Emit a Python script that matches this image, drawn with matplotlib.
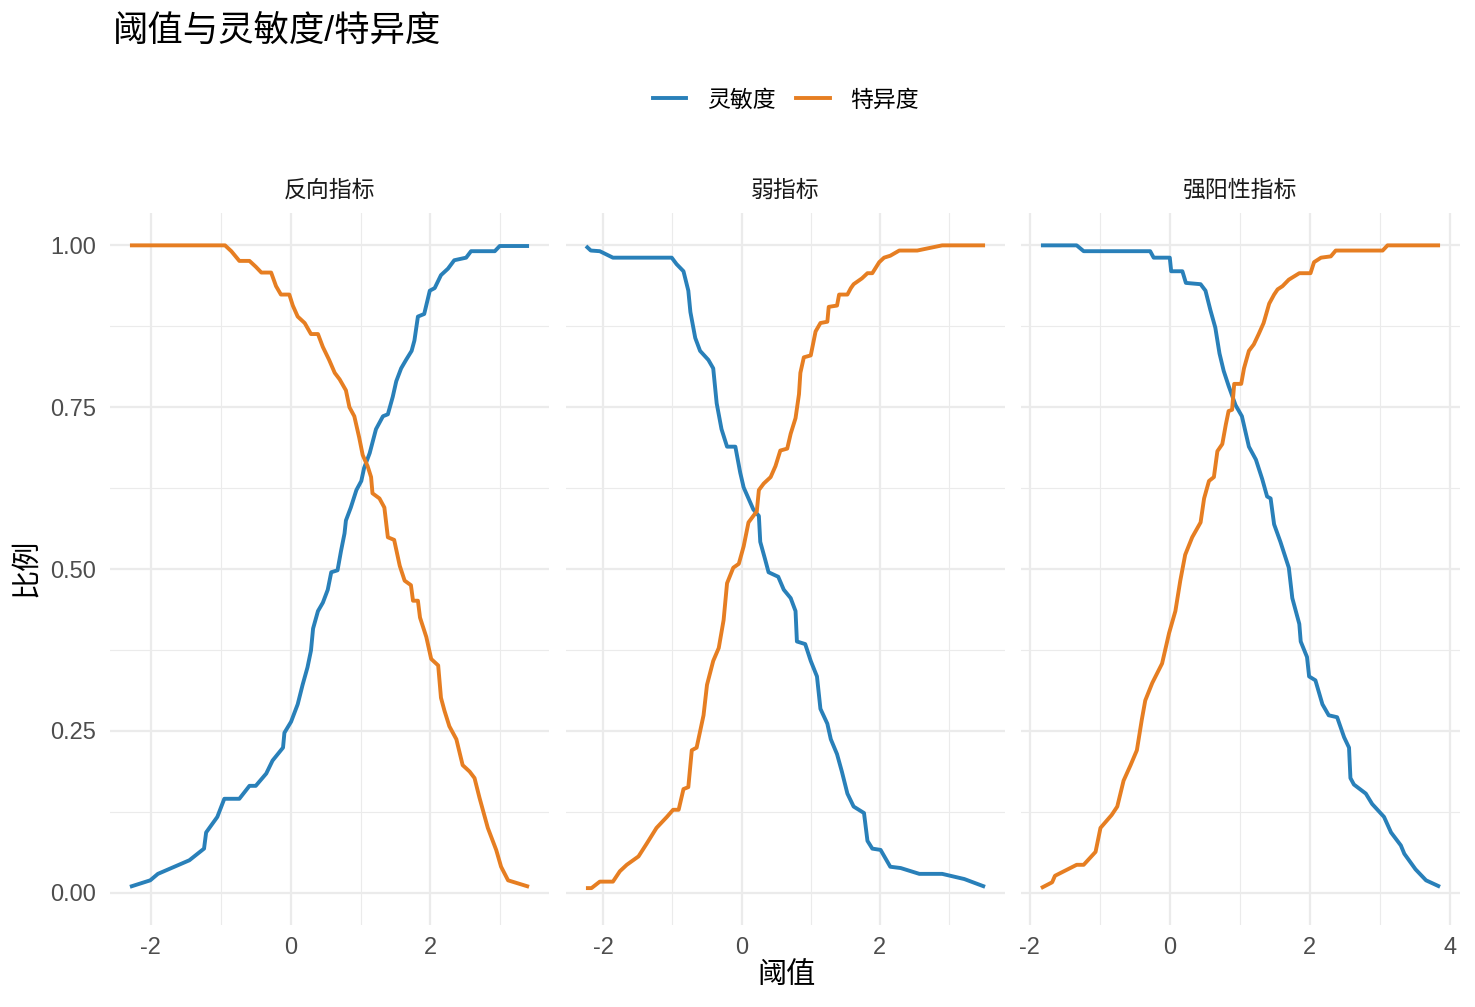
import matplotlib
matplotlib.use("Agg")
import matplotlib.pyplot as plt
from matplotlib.ticker import MultipleLocator, FixedLocator
from matplotlib.lines import Line2D

plt.rcParams['font.family'] = ['Liberation Sans', 'Noto Sans CJK SC', 'DejaVu Sans']

title = "阈值与灵敏度/特异度"
facets = ["反向指标", "弱指标", "强阳性指标"]
series_names = ["灵敏度", "特异度"]
colors = ["#2980B9", "#E67E22"]

# ---- panel 1: 反向指标 ----
p1_sens_x = [-2.30, -2.01, -1.90, -1.45, -1.24, -1.21, -1.05, -0.95, -0.735, -0.59, -0.50, -0.35, -0.26,
             -0.11, -0.09, 0.005, 0.10, 0.17, 0.24, 0.29, 0.32, 0.39, 0.46, 0.53, 0.58, 0.67, 0.72, 0.77,
             0.79, 0.86, 0.94, 1.01, 1.05, 1.13, 1.22, 1.32, 1.39, 1.46, 1.51, 1.58, 1.65, 1.73, 1.77,
             1.82, 1.91, 1.99, 2.06, 2.15, 2.25, 2.34, 2.51, 2.58, 2.92, 2.99, 3.41]
p1_sens_y = [0.009, 0.019, 0.029, 0.050, 0.068, 0.093, 0.117, 0.145, 0.145, 0.165, 0.165, 0.184, 0.204,
             0.224, 0.247, 0.264, 0.291, 0.321, 0.348, 0.374, 0.408, 0.435, 0.448, 0.468, 0.495, 0.498,
             0.528, 0.555, 0.575, 0.595, 0.622, 0.636, 0.656, 0.679, 0.716, 0.736, 0.739, 0.766, 0.790,
             0.810, 0.823, 0.837, 0.853, 0.890, 0.894, 0.930, 0.934, 0.954, 0.964, 0.977, 0.981, 0.991,
             0.991, 0.999, 0.999]
p1_spec_x = [-2.30, -0.94, -0.85, -0.735, -0.59, -0.50, -0.42, -0.28, -0.21, -0.14, -0.02, 0.03, 0.10,
             0.20, 0.29, 0.39, 0.46, 0.55, 0.63, 0.70, 0.79, 0.84, 0.91, 0.98, 1.03, 1.10, 1.15, 1.17,
             1.27, 1.34, 1.39, 1.48, 1.56, 1.63, 1.72, 1.75, 1.82, 1.85, 1.94, 2.01, 2.11, 2.15, 2.20,
             2.27, 2.37, 2.46, 2.56, 2.63, 2.70, 2.82, 2.94, 3.01, 3.11, 3.41]
p1_spec_y = [1.0, 1.0, 0.991, 0.976, 0.976, 0.967, 0.958, 0.958, 0.937, 0.924, 0.924, 0.907, 0.890,
             0.880, 0.863, 0.863, 0.843, 0.823, 0.803, 0.793, 0.776, 0.750, 0.736, 0.703, 0.676, 0.659,
             0.642, 0.617, 0.609, 0.595, 0.549, 0.545, 0.505, 0.482, 0.475, 0.451, 0.451, 0.425, 0.395,
             0.361, 0.351, 0.301, 0.281, 0.257, 0.237, 0.197, 0.187, 0.177, 0.147, 0.100, 0.066, 0.040,
             0.019, 0.009]

# ---- panel 2: 弱指标 ----
p2_sens_x = [-2.25, -2.18, -2.05, -1.86, -1.01, -0.94, -0.84, -0.77, -0.74, -0.67, -0.60, -0.48, -0.41,
             -0.36, -0.29, -0.21, -0.09, -0.02, 0.03, 0.10, 0.17, 0.25, 0.27, 0.34, 0.39, 0.53, 0.61,
             0.71, 0.78, 0.80, 0.92, 1.00, 1.09, 1.14, 1.24, 1.29, 1.38, 1.45, 1.53, 1.62, 1.77, 1.82,
             1.89, 2.01, 2.15, 2.30, 2.57, 2.90, 3.22, 3.52]
p2_sens_y = [0.999, 0.992, 0.991, 0.981, 0.981, 0.971, 0.960, 0.930, 0.897, 0.857, 0.837, 0.823, 0.810,
             0.756, 0.716, 0.689, 0.689, 0.649, 0.626, 0.609, 0.592, 0.582, 0.542, 0.515, 0.495, 0.488,
             0.468, 0.455, 0.435, 0.388, 0.384, 0.358, 0.334, 0.284, 0.261, 0.237, 0.214, 0.187, 0.153,
             0.133, 0.123, 0.080, 0.068, 0.066, 0.040, 0.038, 0.029, 0.029, 0.021, 0.009]
p2_spec_x = [-2.25, -2.17, -2.05, -1.86, -1.76, -1.66, -1.49, -1.37, -1.23, -1.08, -0.99, -0.91, -0.84,
             -0.77, -0.72, -0.65, -0.55, -0.50, -0.41, -0.33, -0.26, -0.21, -0.12, -0.04, 0.03, 0.10,
             0.17, 0.22, 0.25, 0.32, 0.42, 0.49, 0.56, 0.66, 0.71, 0.78, 0.83, 0.85, 0.90, 1.00, 1.07,
             1.14, 1.24, 1.26, 1.38, 1.41, 1.53, 1.58, 1.62, 1.74, 1.82, 1.89, 1.99, 2.06, 2.15, 2.28,
             2.54, 2.90, 3.52]
p2_spec_y = [0.007, 0.007, 0.017, 0.017, 0.033, 0.043, 0.056, 0.076, 0.100, 0.117, 0.128, 0.128, 0.160,
             0.163, 0.220, 0.224, 0.274, 0.321, 0.358, 0.378, 0.421, 0.478, 0.502, 0.508, 0.535, 0.572,
             0.582, 0.589, 0.622, 0.632, 0.642, 0.659, 0.683, 0.686, 0.709, 0.733, 0.770, 0.803, 0.827,
             0.830, 0.867, 0.880, 0.882, 0.905, 0.907, 0.924, 0.924, 0.934, 0.940, 0.949, 0.957, 0.957,
             0.974, 0.981, 0.984, 0.992, 0.992, 1.0, 1.0]

# ---- panel 3: 强阳性指标 ----
p3_sens_x = [-1.84, -1.33, -1.23, -0.28, -0.23, 0.0, 0.02, 0.18, 0.23, 0.44, 0.51, 0.58, 0.65, 0.71,
             0.77, 0.84, 0.94, 1.03, 1.13, 1.23, 1.32, 1.39, 1.44, 1.49, 1.58, 1.70, 1.75, 1.85, 1.87,
             1.96, 1.99, 2.08, 2.18, 2.27, 2.39, 2.49, 2.56, 2.58, 2.63, 2.80, 2.89, 3.06, 3.16, 3.30,
             3.35, 3.51, 3.66, 3.86]
p3_sens_y = [1.0, 1.0, 0.991, 0.991, 0.981, 0.981, 0.960, 0.960, 0.942, 0.940, 0.930, 0.900, 0.873,
             0.833, 0.806, 0.783, 0.753, 0.736, 0.689, 0.669, 0.639, 0.612, 0.609, 0.569, 0.542, 0.502,
             0.455, 0.415, 0.388, 0.364, 0.334, 0.328, 0.291, 0.274, 0.271, 0.240, 0.224, 0.177, 0.167,
             0.153, 0.137, 0.117, 0.093, 0.073, 0.060, 0.036, 0.019, 0.009]
p3_spec_x = [-1.84, -1.68, -1.64, -1.33, -1.23, -1.06, -0.99, -0.83, -0.75, -0.66, -0.56, -0.47, -0.40,
             -0.35, -0.25, -0.11, -0.01, 0.08, 0.15, 0.22, 0.32, 0.44, 0.49, 0.56, 0.63, 0.68, 0.75,
             0.80, 0.84, 0.89, 0.92, 1.02, 1.06, 1.13, 1.20, 1.27, 1.34, 1.42, 1.49, 1.54, 1.61, 1.70,
             1.85, 2.01, 2.06, 2.16, 2.30, 2.37, 3.04, 3.11, 3.86]
p3_spec_y = [0.007, 0.016, 0.026, 0.043, 0.043, 0.063, 0.100, 0.120, 0.133, 0.173, 0.197, 0.220, 0.267,
             0.297, 0.324, 0.354, 0.401, 0.435, 0.482, 0.522, 0.549, 0.572, 0.609, 0.636, 0.642, 0.682,
             0.693, 0.723, 0.744, 0.746, 0.786, 0.786, 0.810, 0.837, 0.847, 0.863, 0.880, 0.910, 0.924,
             0.932, 0.937, 0.947, 0.957, 0.957, 0.974, 0.981, 0.983, 0.992, 0.992, 1.0, 1.0]

panels = [
    (p1_sens_x, p1_sens_y, p1_spec_x, p1_spec_y),
    (p2_sens_x, p2_sens_y, p2_spec_x, p2_spec_y),
    (p3_sens_x, p3_sens_y, p3_spec_x, p3_spec_y),
]

W, H = 1475, 1007
fig = plt.figure(figsize=(W / 100, H / 100), dpi=100)

lefts = [110, 566, 1021]
pw = 439
top_px, bot_px = 213, 925
grid_c = "#EBEBEB"

axes = []
for i, (sx, sy, px_, py_) in enumerate(panels):
    ax = fig.add_axes([lefts[i] / W, 1 - bot_px / H, pw / W, (bot_px - top_px) / H])
    axes.append(ax)
    ax.plot(sx, sy, color=colors[0], lw=2.8, solid_capstyle='butt', zorder=3)
    ax.plot(px_, py_, color=colors[1], lw=2.8, solid_capstyle='butt', zorder=3)
    xmin = min(min(sx), min(px_))
    xmax = max(max(sx), max(px_))
    r = xmax - xmin
    ax.set_xlim(xmin - 0.05 * r, xmax + 0.05 * r)
    ax.set_ylim(-0.05, 1.05)
    ax.xaxis.set_major_locator(MultipleLocator(2))
    ax.xaxis.set_minor_locator(MultipleLocator(1))
    ax.yaxis.set_major_locator(FixedLocator([0, 0.25, 0.5, 0.75, 1.0]))
    ax.yaxis.set_minor_locator(FixedLocator([0.125, 0.375, 0.625, 0.875]))
    ax.grid(which='major', color=grid_c, lw=1.6, zorder=0)
    ax.grid(which='minor', color=grid_c, lw=0.8, zorder=0)
    ax.set_axisbelow(True)
    for s in ax.spines.values():
        s.set_visible(False)
    ax.tick_params(which='both', length=0, labelsize=17, colors="#4D4D4D")
    ax.tick_params(axis='x', pad=9)
    ax.tick_params(axis='y', pad=10)
    ax.set_xticklabels([f"{int(t)}" if t != 0 else "0" for t in ax.get_xticks()])
    if i == 0:
        ax.set_yticklabels(["0.00", "0.25", "0.50", "0.75", "1.00"])
    else:
        ax.tick_params(axis='y', labelleft=False)
    fig.text((lefts[i] + pw / 2) / W, 1 - 190 / H, facets[i], ha='center', va='center',
             fontsize=16.5, color="#1A1A1A")

fig.text(113 / W, 1 - 31 / H, title, ha='left', va='center', fontsize=25.5, color='black')
fig.text(786 / W, 1 - 975 / H, "阈值", ha='center', va='center', fontsize=21, color='black')
fig.text(26 / W, 1 - 568 / H, "比例", ha='center', va='center', rotation=90, fontsize=21, color='black')

handles = [Line2D([], [], color=c, lw=2.8) for c in colors]
fig.legend(handles, series_names, loc='center', bbox_to_anchor=(786 / W, 1 - 100 / H), ncol=2,
           frameon=False, fontsize=16.5, handlelength=1.45, handletextpad=0.9, columnspacing=0.9)

fig.savefig("out.png", dpi=100)
